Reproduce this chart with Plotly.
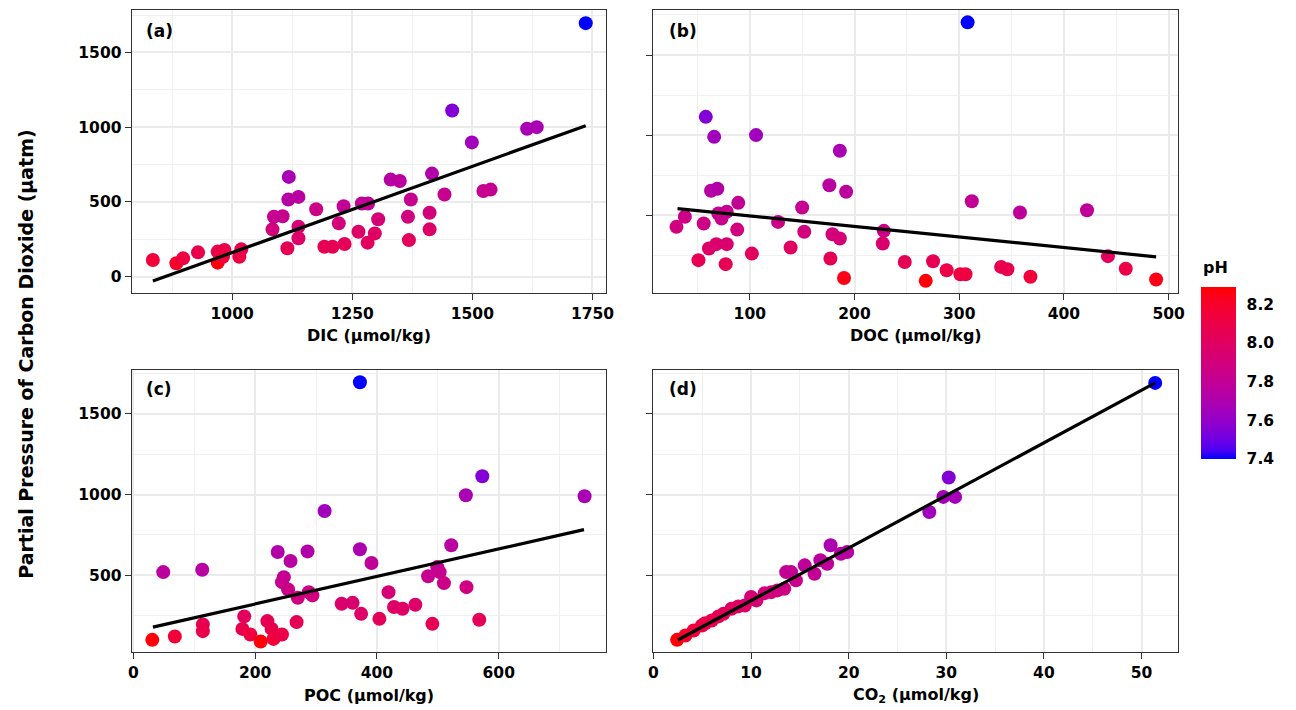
import numpy as np
import plotly.graph_objects as go

# ---------------- data ----------------
dic_x = [835, 884, 898, 929, 970, 970, 984, 981, 1015, 1019, 1084, 1087, 1105, 1115, 1118, 1117, 1138, 1138, 1138, 1175,
         1192, 1209, 1222, 1232, 1234, 1263, 1270, 1283, 1282, 1297, 1304, 1330, 1349, 1366, 1372, 1368, 1411, 1411, 1416,
         1442, 1499, 1523, 1538, 1458, 1614, 1634, 1736]
dic_y = [111, 89, 122, 162, 167, 93, 178, 133, 133, 182, 316, 400, 404, 189, 667, 516, 533, 333, 256, 451,
         200, 200, 356, 471, 218, 300, 489, 489, 227, 289, 384, 649, 640, 400, 516, 244, 427, 316, 689,
         549, 898, 573, 582, 1111, 989, 1000, 1696]
dic_ph = [8.15, 8.2, 8.12, 8.08, 8.08, 8.27, 8.08, 8.15, 8.12, 8.08, 7.9, 7.82, 7.82, 8.05, 7.68, 7.74, 7.75, 7.92, 7.97, 7.85,
          8.05, 8.05, 7.9, 7.8, 8.03, 7.98, 7.8, 7.8, 8.02, 8.0, 7.92, 7.75, 7.76, 7.88, 7.82, 8.02, 7.9, 7.98, 7.72,
          7.82, 7.65, 7.82, 7.82, 7.55, 7.68, 7.68, 7.4]
dic_fit_x = [835, 1736]
dic_fit_y = [-30, 1010]

doc_x = [58, 66, 106, 186, 63, 69, 176, 192, 89, 150, 38, 70, 78, 73, 30, 56, 127, 88, 152, 179,
         186, 228, 227, 61, 68, 78, 51, 77, 102, 139, 177, 190, 248, 268, 275, 288, 301, 306, 312, 340,
         346, 358, 368, 422, 442, 459, 488, 308]
doc_y = [1114, 989, 1000, 902, 652, 665, 687, 646, 577, 548, 490, 510, 521, 479, 427, 448, 458, 410, 396, 381,
         354, 402, 323, 292, 319, 319, 219, 194, 260, 298, 229, 108, 208, 90, 212, 156, 131, 131, 587, 177,
         162, 517, 115, 531, 244, 165, 98, 1704]
doc_ph = [7.55, 7.65, 7.65, 7.68, 7.75, 7.72, 7.75, 7.76, 7.8, 7.82, 7.85, 7.82, 7.82, 7.84, 7.88, 7.86, 7.85, 7.88, 7.9, 7.9,
          7.92, 7.85, 7.95, 7.98, 7.96, 7.95, 8.05, 8.05, 8.02, 8.0, 8.05, 8.25, 8.05, 8.28, 8.05, 8.1, 8.12, 8.12, 7.8, 8.07,
          8.08, 7.78, 8.15, 7.78, 8.02, 8.1, 8.25, 7.4]
doc_fit_x = [31, 488]
doc_fit_y = [541, 240]

poc_x = [31, 68, 49, 113, 114, 114, 182, 179, 192, 209, 220, 227, 230, 244, 268, 237, 258, 286, 247, 244,
         254, 270, 288, 294, 314, 342, 360, 374, 372, 391, 404, 419, 428, 442, 463, 484, 491, 499, 503, 510,
         522, 546, 547, 568, 573, 372, 741]
poc_y = [101, 122, 520, 535, 196, 155, 246, 169, 134, 91, 217, 169, 107, 134, 211, 644, 589, 648, 489, 458,
         413, 361, 396, 376, 898, 324, 330, 262, 661, 576, 231, 396, 304, 293, 318, 494, 200, 551, 520, 452,
         686, 995, 427, 225, 1113, 1694, 989]
poc_ph = [8.28, 8.15, 7.75, 7.75, 8.05, 8.08, 8.02, 8.08, 8.12, 8.28, 8.05, 8.08, 8.15, 8.1, 8.05, 7.72, 7.75, 7.72, 7.8, 7.82,
          7.85, 7.88, 7.86, 7.88, 7.65, 7.95, 7.95, 7.98, 7.7, 7.78, 8.03, 7.92, 7.98, 7.98, 7.97, 7.82, 8.05, 7.8, 7.82, 7.85,
          7.75, 7.68, 7.88, 8.03, 7.55, 7.4, 7.68]
poc_fit_x = [32, 740]
poc_fit_y = [180, 783]

co2_x = [2.43, 3.28, 4.12, 4.97, 5.3, 5.98, 6.66, 7.17, 8.0, 8.69, 9.36, 10.0, 10.55, 11.4, 12.07, 12.7, 13.4, 13.6,
         14.1, 14.6, 15.5, 16.5, 17.1, 17.8, 18.15, 19.2, 19.85, 28.26, 29.7, 30.25, 30.9, 51.4]
co2_y = [101, 128, 159, 190, 204, 221, 246, 262, 293, 308, 314, 366, 345, 390, 396, 407, 417, 520,
         520, 469, 562, 510, 593, 572, 686, 634, 644, 892, 985, 1105, 985, 1690]
co2_ph = [8.28, 8.2, 8.15, 8.12, 8.1, 8.08, 8.05, 8.03, 8.0, 7.99, 7.98, 7.92, 7.94, 7.9, 7.89, 7.88, 7.87, 7.8,
          7.8, 7.84, 7.78, 7.8, 7.76, 7.78, 7.7, 7.74, 7.74, 7.65, 7.66, 7.55, 7.66, 7.4]
co2_fit_x = [2.5, 51.4]
co2_fit_y = [100, 1690]

ph_ticks = [7.4, 7.6, 7.8, 8.0, 8.2]
PH_MIN, PH_MAX = 7.4, 8.29

# ---------------- colour scale (Lab interpolation blue -> red) ----------------
def _srgb_to_lin(c):
    c = np.asarray(c, float)
    return np.where(c <= 0.04045, c / 12.92, ((c + 0.055) / 1.055) ** 2.4)

def _lin_to_srgb(c):
    c = np.clip(c, 0, 1)
    return np.where(c <= 0.0031308, 12.92 * c, 1.055 * c ** (1 / 2.4) - 0.055)

M = np.array([[0.4124, 0.3576, 0.1805], [0.2126, 0.7152, 0.0722], [0.0193, 0.1192, 0.9505]])
WHITE = np.array([0.95047, 1.0, 1.08883])

def _f(t):
    d = 6 / 29
    return np.where(t > d ** 3, np.cbrt(t), t / (3 * d * d) + 4 / 29)

def _finv(t):
    d = 6 / 29
    return np.where(t > d, t ** 3, 3 * d * d * (t - 4 / 29))

def rgb_to_lab(rgb):
    xyz = M @ _srgb_to_lin(np.array(rgb) / 255.0) / WHITE
    fx, fy, fz = _f(xyz)
    return np.array([116 * fy - 16, 500 * (fx - fy), 200 * (fy - fz)])

def lab_to_rgb(lab):
    L, a, b = lab
    fy = (L + 16) / 116
    xyz = np.array([_finv(fy + a / 500), _finv(fy), _finv(fy - b / 200)]) * WHITE
    rgb = _lin_to_srgb(np.linalg.solve(M, xyz))
    return tuple(int(round(v * 255)) for v in rgb)

lab_lo = rgb_to_lab([0, 0, 255])
lab_hi = rgb_to_lab([255, 0, 0])
colorscale = []
for t in np.linspace(0, 1, 21):
    r, g, b = lab_to_rgb(lab_lo * (1 - t) + lab_hi * t)
    colorscale.append([float(t), f"rgb({r},{g},{b})"])

# ---------------- figure ----------------
FONT = "DejaVu Sans"
W, H = 1296, 710

def px_x(v):
    return v / W

def px_y(v):
    return 1 - v / H

fig = go.Figure()

panels = [
    (dic_x, dic_y, dic_ph, dic_fit_x, dic_fit_y, "x", "y"),
    (doc_x, doc_y, doc_ph, doc_fit_x, doc_fit_y, "x2", "y2"),
    (poc_x, poc_y, poc_ph, poc_fit_x, poc_fit_y, "x3", "y3"),
    (co2_x, co2_y, co2_ph, co2_fit_x, co2_fit_y, "x4", "y4"),
]
for i, (xs, ys, ph, fx, fy, xa, ya) in enumerate(panels):
    marker = dict(size=14, color=ph, colorscale=colorscale, cmin=PH_MIN, cmax=PH_MAX,
                  line=dict(width=0), opacity=1)
    if i == 0:
        marker.update(showscale=True, colorbar=dict(
            lenmode="pixels", len=172, thickness=35, thicknessmode="pixels",
            x=px_x(1208), xanchor="left", y=px_y(373), yanchor="middle",
            xpad=0, ypad=0, outlinewidth=0,
            tickmode="array", tickvals=ph_ticks, ticktext=[f"{v:.1f}" for v in ph_ticks],
            ticks="outside", ticklen=8, tickcolor="rgba(255,255,255,0)", tickwidth=1,
            tickfont=dict(family=FONT, size=15.5, color="black", weight="bold")))
    else:
        marker.update(showscale=False)
    fig.add_trace(go.Scatter(x=xs, y=ys, mode="markers", marker=marker, xaxis=xa, yaxis=ya,
                             showlegend=False, hoverinfo="x+y"))
    fig.add_trace(go.Scatter(x=fx, y=fy, mode="lines", line=dict(color="black", width=3.2),
                             xaxis=xa, yaxis=ya, showlegend=False))

COL_L = [px_x(128), px_x(607)]
COL_R = [px_x(655), px_x(1185)]
ROW_T = [px_y(293), px_y(10)]
ROW_B = [px_y(652), px_y(369.5)]

def axis(domain, rng, major, minor, labels, anchor):
    return dict(domain=domain, range=rng, anchor=anchor, tickmode="array", tickvals=major,
                showticklabels=labels, ticks="outside", ticklen=6, tickwidth=1.2, tickcolor="#333333",
                showline=True, mirror=True, linecolor="#333333", linewidth=1.3,
                showgrid=True, gridcolor="#EBEBEB", gridwidth=2, zeroline=False,
                minor=dict(tickmode="array", tickvals=minor, showgrid=True, gridcolor="#F0F0F0",
                           gridwidth=1, ticks=""),
                tickfont=dict(family=FONT, size=15.5, color="black", weight="bold"))

y_major = [0, 500, 1000, 1500]
y_minor = [250, 750, 1250, 1750]

fig.update_layout(
    width=W, height=H, margin=dict(l=0, r=0, t=0, b=0),
    paper_bgcolor="white", plot_bgcolor="white",
    xaxis=axis(COL_L, [791, 1778], [1000, 1250, 1500, 1750], [875, 1125, 1375, 1625], True, "y"),
    yaxis=axis(ROW_T, [-110, 1784], y_major, [-250] + y_minor, True, "x"),
    xaxis2=axis(COL_R, [8, 509], [100, 200, 300, 400, 500], [50, 150, 250, 350, 450], True, "y2"),
    yaxis2=axis(ROW_T, [14, 1781], y_major, y_minor, False, "x2"),
    xaxis3=axis(COL_L, [-2.8, 776], [0, 200, 400, 600], [100, 300, 500, 700], True, "y3"),
    yaxis3=axis(ROW_B, [26, 1773], y_major, y_minor, True, "x3"),
    xaxis4=axis(COL_R, [0, 53.75], [0, 10, 20, 30, 40, 50], [5, 15, 25, 35, 45], True, "y4"),
    yaxis4=axis(ROW_B, [26, 1773], y_major, y_minor, False, "x4"),
)

ann_font = dict(family=FONT, size=16, color="black", weight="bold")
annotations = [
    dict(text="DIC (µmol/kg)", x=(COL_L[0] + COL_L[1]) / 2, y=px_y(335)),
    dict(text="DOC (µmol/kg)", x=(COL_R[0] + COL_R[1]) / 2, y=px_y(335)),
    dict(text="POC (µmol/kg)", x=(COL_L[0] + COL_L[1]) / 2, y=px_y(695)),
    dict(text="CO<sub>2</sub> (µmol/kg)", x=(COL_R[0] + COL_R[1]) / 2, y=px_y(695)),
]
for a in annotations:
    fig.add_annotation(xref="paper", yref="paper", showarrow=False, xanchor="center", yanchor="middle",
                       font=ann_font, **a)

fig.add_annotation(text="Partial Pressure of Carbon Dioxide (µatm)", textangle=-90,
                   xref="paper", yref="paper", x=px_x(21), y=px_y(354), showarrow=False,
                   xanchor="center", yanchor="middle",
                   font=dict(family=FONT, size=19, color="black", weight="bold"))

fig.add_annotation(text="pH", xref="paper", yref="paper", x=px_x(1223), y=px_y(268), showarrow=False,
                   xanchor="center", yanchor="middle", font=ann_font)

for lab, xp, yp in [("(a)", 156, 31), ("(b)", 685, 31), ("(c)", 156, 389), ("(d)", 685, 389)]:
    fig.add_annotation(text=lab, xref="paper", yref="paper", x=px_x(xp), y=px_y(yp), showarrow=False,
                       xanchor="center", yanchor="middle",
                       font=dict(family=FONT, size=17, color="black", weight="bold"))

fig.write_html("out.html")
